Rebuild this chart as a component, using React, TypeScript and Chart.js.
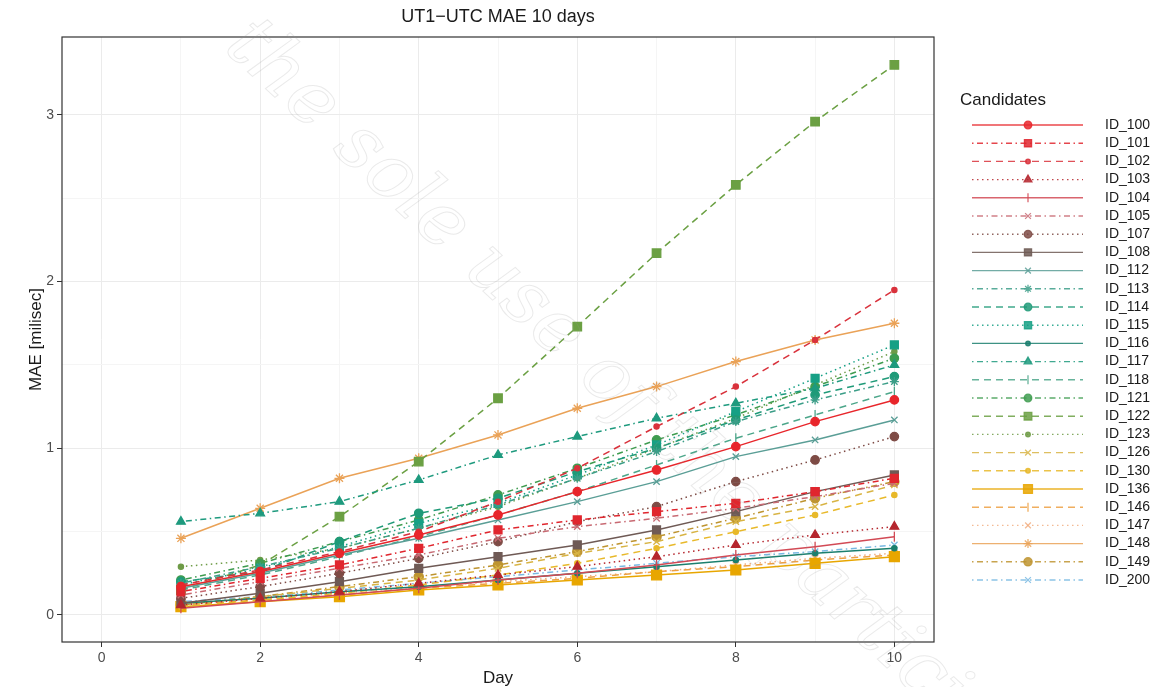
import React, { useEffect, useRef } from 'react';
import { Chart, registerables } from 'chart.js';
import { drawPoint } from 'chart.js/helpers';

Chart.register(...registerables);

const TITLE = 'UT1−UTC MAE 10 days';
const X_TITLE = 'Day';
const Y_TITLE = 'MAE [milisec]';
const LEGEND_TITLE = 'Candidates';
const WATERMARK = 'the sole use of the participants';

const days = [1, 2, 3, 4, 5, 6, 7, 8, 9, 10];
const xTicks = [0, 1, 2, 3, 4, 5, 6, 7, 8, 9, 10];
const yTicks = [0, 0.5, 1, 1.5, 2, 2.5, 3];

const ID_100 = [0.17, 0.26, 0.37, 0.48, 0.60, 0.74, 0.87, 1.01, 1.16, 1.29];
const ID_101 = [0.14, 0.22, 0.30, 0.40, 0.51, 0.57, 0.62, 0.67, 0.74, 0.82];
const ID_102 = [0.18, 0.27, 0.38, 0.50, 0.68, 0.88, 1.13, 1.37, 1.65, 1.95];
const ID_103 = [0.06, 0.10, 0.14, 0.19, 0.24, 0.29, 0.35, 0.42, 0.48, 0.53];
const ID_104 = [0.04, 0.08, 0.12, 0.16, 0.21, 0.25, 0.30, 0.36, 0.41, 0.47];
const ID_105 = [0.12, 0.20, 0.28, 0.36, 0.46, 0.53, 0.58, 0.64, 0.71, 0.79];
const ID_107 = [0.10, 0.17, 0.25, 0.34, 0.44, 0.56, 0.65, 0.80, 0.93, 1.07];
const ID_108 = [0.07, 0.13, 0.20, 0.28, 0.35, 0.42, 0.51, 0.62, 0.74, 0.84];
const ID_112 = [0.16, 0.25, 0.36, 0.46, 0.57, 0.68, 0.80, 0.95, 1.05, 1.17];
const ID_113 = [0.19, 0.29, 0.40, 0.52, 0.66, 0.82, 0.98, 1.16, 1.29, 1.40];
const ID_114 = [0.20, 0.26, 0.44, 0.61, 0.70, 0.86, 1.00, 1.17, 1.32, 1.43];
const ID_115 = [0.18, 0.28, 0.41, 0.55, 0.67, 0.84, 1.02, 1.22, 1.42, 1.62];
const ID_116 = [0.07, 0.10, 0.14, 0.17, 0.21, 0.25, 0.29, 0.33, 0.37, 0.40];
const ID_117 = [0.56, 0.61, 0.68, 0.81, 0.96, 1.07, 1.18, 1.27, 1.36, 1.50];
const ID_118 = [0.15, 0.24, 0.35, 0.47, 0.60, 0.74, 0.90, 1.06, 1.20, 1.34];
const ID_121 = [0.21, 0.31, 0.44, 0.57, 0.72, 0.88, 1.05, 1.20, 1.37, 1.54];
const ID_122 = [0.15, 0.30, 0.59, 0.92, 1.30, 1.73, 2.17, 2.58, 2.96, 3.30];
const ID_123 = [0.29, 0.33, 0.40, 0.52, 0.65, 0.82, 1.00, 1.18, 1.38, 1.58];
const ID_126 = [0.06, 0.11, 0.16, 0.21, 0.28, 0.37, 0.44, 0.56, 0.65, 0.78];
const ID_130 = [0.05, 0.09, 0.13, 0.18, 0.24, 0.31, 0.40, 0.50, 0.60, 0.72];
const ID_136 = [0.05, 0.08, 0.11, 0.15, 0.18, 0.21, 0.24, 0.27, 0.31, 0.35];
const ID_146 = [0.06, 0.09, 0.12, 0.16, 0.19, 0.22, 0.26, 0.29, 0.33, 0.36];
const ID_147 = [0.07, 0.10, 0.13, 0.17, 0.20, 0.23, 0.26, 0.30, 0.34, 0.37];
const ID_148 = [0.46, 0.64, 0.82, 0.94, 1.08, 1.24, 1.37, 1.52, 1.65, 1.75];
const ID_149 = [0.06, 0.11, 0.17, 0.23, 0.30, 0.38, 0.47, 0.58, 0.70, 0.80];
const ID_200 = [0.08, 0.11, 0.15, 0.19, 0.23, 0.27, 0.31, 0.35, 0.38, 0.42];

const SERIES: [string, number[]][] = [
  ['ID_100', ID_100], ['ID_101', ID_101], ['ID_102', ID_102], ['ID_103', ID_103],
  ['ID_104', ID_104], ['ID_105', ID_105], ['ID_107', ID_107], ['ID_108', ID_108],
  ['ID_112', ID_112], ['ID_113', ID_113], ['ID_114', ID_114], ['ID_115', ID_115],
  ['ID_116', ID_116], ['ID_117', ID_117], ['ID_118', ID_118], ['ID_121', ID_121],
  ['ID_122', ID_122], ['ID_123', ID_123], ['ID_126', ID_126], ['ID_130', ID_130],
  ['ID_136', ID_136], ['ID_146', ID_146], ['ID_147', ID_147], ['ID_148', ID_148],
  ['ID_149', ID_149], ['ID_200', ID_200],
];

const SOLID: number[] = [];
const DASH = [7, 5];
const DOT = [1.5, 3.5];
const DOTDASH = [1.5, 3.5, 6, 3.5];

type Sty = { color: string; dash: number[]; point: string; r: number; rot?: number };
const STYLES: Record<string, Sty> = {
  ID_100: { color: '#E8262B', dash: SOLID, point: 'circle', r: 4.2 },
  ID_101: { color: '#E0262E', dash: DOTDASH, point: 'rect', r: 5.6 },
  ID_102: { color: '#D9323C', dash: DASH, point: 'circle', r: 2.6 },
  ID_103: { color: '#B5262E', dash: DOT, point: 'triangle', r: 5 },
  ID_104: { color: '#D24A55', dash: SOLID, point: 'line', r: 5, rot: 90 },
  ID_105: { color: '#C86A73', dash: DOTDASH, point: 'crossRot', r: 4.5 },
  ID_107: { color: '#7E4B45', dash: DOT, point: 'circle', r: 4.2 },
  ID_108: { color: '#6F5A55', dash: SOLID, point: 'rect', r: 5.6 },
  ID_112: { color: '#5A9E96', dash: SOLID, point: 'crossRot', r: 4.5 },
  ID_113: { color: '#3C9E88', dash: DOTDASH, point: 'star', r: 4.5 },
  ID_114: { color: '#1F9A78', dash: DASH, point: 'circle', r: 4.2 },
  ID_115: { color: '#16A085', dash: DOT, point: 'rect', r: 5.6 },
  ID_116: { color: '#1B7F6E', dash: SOLID, point: 'circle', r: 2.6 },
  ID_117: { color: '#1E9A7E', dash: DOTDASH, point: 'triangle', r: 5 },
  ID_118: { color: '#4CA68A', dash: DASH, point: 'line', r: 5, rot: 90 },
  ID_121: { color: '#3F9C50', dash: DOTDASH, point: 'circle', r: 4.2 },
  ID_122: { color: '#6BA043', dash: DASH, point: 'rect', r: 6 },
  ID_123: { color: '#6E9B47', dash: DOT, point: 'circle', r: 2.6 },
  ID_126: { color: '#D8B444', dash: DASH, point: 'crossRot', r: 4.5 },
  ID_130: { color: '#E8B92A', dash: DASH, point: 'circle', r: 2.6 },
  ID_136: { color: '#E8A600', dash: SOLID, point: 'rect', r: 7 },
  ID_146: { color: '#EDA043', dash: DASH, point: 'line', r: 5, rot: 90 },
  ID_147: { color: '#F2AE80', dash: DOT, point: 'crossRot', r: 4.5 },
  ID_148: { color: '#EAA257', dash: SOLID, point: 'star', r: 5 },
  ID_149: { color: '#BE9430', dash: DOTDASH, point: 'circle', r: 4.6 },
  ID_200: { color: '#78B8E2', dash: DOTDASH, point: 'crossRot', r: 4.5 },
};

const FONT = '"Liberation Sans", Arial, Helvetica, sans-serif';
const W = 1157;
const H = 679;

const overlay = {
  id: 'overlay',
  afterDraw(chart: any) {
    const ctx: CanvasRenderingContext2D = chart.ctx;
    const a = chart.chartArea;
    ctx.save();
    ctx.setLineDash([]);
    ctx.strokeStyle = '#333333';
    ctx.lineWidth = 1.2;
    ctx.strokeRect(a.left, a.top, a.right - a.left, a.bottom - a.top);
    ctx.fillStyle = '#1A1A1A';
    ctx.textAlign = 'center';
    ctx.textBaseline = 'middle';
    ctx.font = `18px ${FONT}`;
    ctx.fillText(TITLE, (a.left + a.right) / 2, 9);
    ctx.font = `17px ${FONT}`;
    ctx.fillText(X_TITLE, (a.left + a.right) / 2, 670);
    ctx.save();
    ctx.translate(28, (a.top + a.bottom) / 2);
    ctx.rotate(-Math.PI / 2);
    ctx.fillText(Y_TITLE, 0, 0);
    ctx.restore();
    ctx.textAlign = 'left';
    ctx.font = `17px ${FONT}`;
    ctx.fillText(LEGEND_TITLE, 952, 92);
    ctx.font = `14px ${FONT}`;
    chart.data.datasets.forEach((ds: any, i: number) => {
      const y = 117 + i * 18.2;
      const s = STYLES[ds.label];
      ctx.globalAlpha = 0.85;
      ctx.strokeStyle = s.color;
      ctx.fillStyle = s.color;
      ctx.lineWidth = 1.4;
      ctx.setLineDash(s.dash);
      ctx.beginPath();
      ctx.moveTo(964, y);
      ctx.lineTo(1075, y);
      ctx.stroke();
      ctx.setLineDash([]);
      ctx.lineWidth = 1.3;
      drawPoint(ctx, { pointStyle: s.point as any, rotation: s.rot || 0, radius: s.r * 0.9, borderWidth: 1.3 }, 1020, y);
      ctx.globalAlpha = 1;
      ctx.fillStyle = '#1A1A1A';
      ctx.fillText(ds.label, 1097, y);
    });
    ctx.save();
    ctx.translate(228, 26);
    ctx.rotate((43 * Math.PI) / 180);
    ctx.font = `italic 76px "DejaVu Serif", serif`;
    ctx.textAlign = 'left';
    ctx.textBaseline = 'middle';
    ctx.strokeStyle = 'rgba(150,150,150,0.2)';
    ctx.lineWidth = 1;
    ctx.strokeText(WATERMARK, 0, 0);
    ctx.restore();
    ctx.restore();
  },
};

export default function App() {
  const ref = useRef<HTMLCanvasElement | null>(null);
  useEffect(() => {
    if (!ref.current) return;
    const datasets = SERIES.map(([name, vals]) => {
      const s = STYLES[name];
      return {
        label: name,
        data: days.map((d, i) => ({ x: d, y: vals[i] })),
        borderColor: s.color,
        backgroundColor: s.color,
        borderWidth: 1.5,
        borderDash: s.dash,
        pointStyle: s.point as any,
        pointRadius: s.r,
        pointRotation: s.rot || 0,
        pointBorderWidth: 1.3,
        pointBackgroundColor: s.color,
        pointBorderColor: s.color,
        fill: false,
        tension: 0,
      };
    });
    const chart = new Chart(ref.current, {
      type: 'line',
      data: { datasets },
      options: {
        animation: false,
        responsive: false,
        devicePixelRatio: 1,
        layout: { padding: { left: 0, top: 29, right: W - 926, bottom: 0 } },
        plugins: { legend: { display: false }, tooltip: { enabled: false }, title: { display: false } },
        scales: {
          x: {
            type: 'linear',
            min: -0.5,
            max: 10.5,
            afterBuildTicks: (s: any) => {
              s.ticks = xTicks.map((v) => ({ value: v }));
            },
            afterFit: (s: any) => {
              s.height = 45;
            },
            ticks: {
              autoSkip: false,
              maxRotation: 0,
              padding: 3,
              color: '#4D4D4D',
              font: { family: FONT, size: 14 },
              callback: (v: any) => (v % 2 === 0 ? String(v) : ''),
            },
            grid: {
              color: (c: any) => (c.tick && c.tick.value % 2 === 0 ? '#EBEBEB' : '#F5F5F5'),
              tickColor: (c: any) => (c.tick && c.tick.value % 2 === 0 ? '#333333' : 'rgba(0,0,0,0)'),
              tickLength: 5,
              lineWidth: 1,
            },
            border: { display: false },
          },
          y: {
            type: 'linear',
            min: -0.162,
            max: 3.467,
            afterBuildTicks: (s: any) => {
              s.ticks = yTicks.map((v) => ({ value: v }));
            },
            afterFit: (s: any) => {
              s.width = 54;
            },
            ticks: {
              autoSkip: false,
              padding: 3,
              color: '#4D4D4D',
              font: { family: FONT, size: 14 },
              callback: (v: any) => (Number.isInteger(v) ? String(v) : ''),
            },
            grid: {
              color: (c: any) => (c.tick && Number.isInteger(c.tick.value) ? '#EBEBEB' : '#F5F5F5'),
              tickColor: (c: any) => (c.tick && Number.isInteger(c.tick.value) ? '#333333' : 'rgba(0,0,0,0)'),
              tickLength: 5,
              lineWidth: 1,
            },
            border: { display: false },
          },
        },
      },
      plugins: [overlay],
    });
    return () => chart.destroy();
  }, []);
  return (
    <div style={{ width: W, height: H, background: '#ffffff' }}>
      <canvas ref={ref} width={W} height={H} style={{ display: 'block', width: W, height: H }} />
    </div>
  );
}
